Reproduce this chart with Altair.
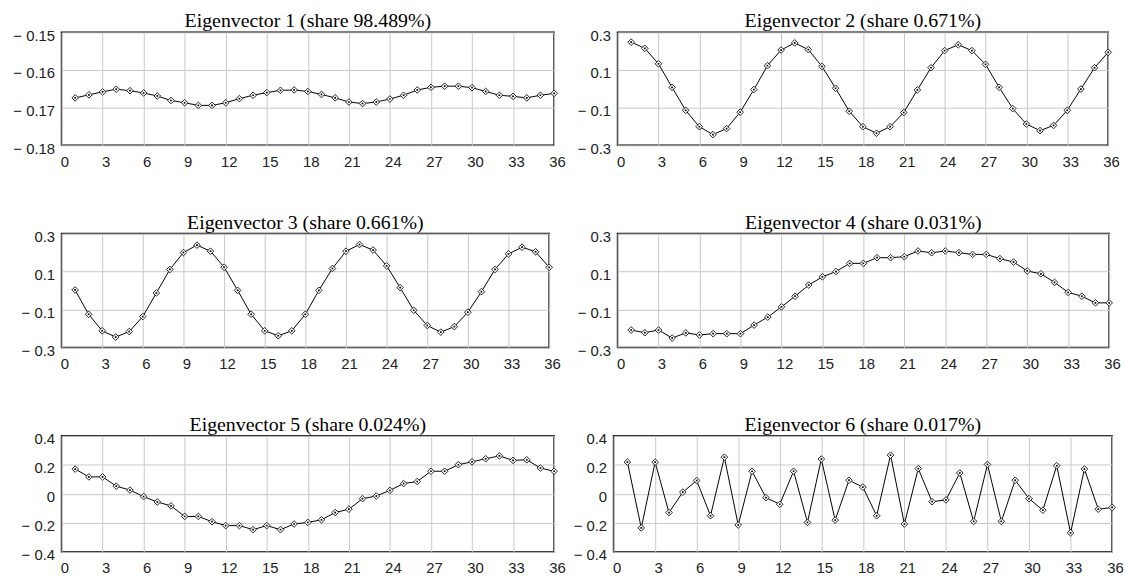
import altair as alt
import pandas as pd

x_vals = list(range(1, 37))

ev1 = [-0.1674, -0.1666, -0.1658, -0.1651, -0.1655, -0.1661, -0.1669, -0.1681, -0.1687, -0.1694,
       -0.1694, -0.1687, -0.1676, -0.1667, -0.1660, -0.1654, -0.1653, -0.1657, -0.1665, -0.1674,
       -0.1685, -0.1689, -0.1685, -0.1677, -0.1667, -0.1653, -0.1646, -0.1643, -0.1643, -0.1647,
       -0.1657, -0.1667, -0.1670, -0.1674, -0.1667, -0.1662]
ev2 = [0.248, 0.215, 0.133, 0.008, -0.114, -0.201, -0.243, -0.211, -0.124, -0.004,
       0.123, 0.206, 0.244, 0.208, 0.119, 0.003, -0.119, -0.201, -0.236, -0.201,
       -0.126, -0.006, 0.112, 0.203, 0.234, 0.203, 0.130, 0.008, -0.105, -0.187,
       -0.222, -0.194, -0.114, -0.001, 0.112, 0.194]
ev3 = [0.003, -0.125, -0.212, -0.245, -0.216, -0.137, -0.013, 0.111, 0.200, 0.239,
       0.207, 0.123, 0.001, -0.125, -0.212, -0.238, -0.212, -0.125, 0.001, 0.116,
       0.207, 0.242, 0.213, 0.130, 0.015, -0.104, -0.184, -0.219, -0.190, -0.114,
       -0.006, 0.111, 0.193, 0.228, 0.204, 0.122]
ev4 = [-0.208, -0.222, -0.208, -0.250, -0.223, -0.234, -0.227, -0.227, -0.227, -0.182,
       -0.140, -0.086, -0.030, 0.029, 0.072, 0.100, 0.143, 0.143, 0.173, 0.173,
       0.178, 0.208, 0.199, 0.208, 0.199, 0.190, 0.190, 0.168, 0.150, 0.103,
       0.088, 0.043, -0.010, -0.030, -0.065, -0.065]
ev5 = [0.170, 0.116, 0.116, 0.052, 0.025, -0.020, -0.057, -0.084, -0.157, -0.157,
       -0.193, -0.220, -0.220, -0.248, -0.220, -0.248, -0.209, -0.198, -0.180, -0.130,
       -0.107, -0.034, -0.016, 0.023, 0.070, 0.084, 0.155, 0.155, 0.200, 0.220,
       0.241, 0.261, 0.230, 0.234, 0.177, 0.155]
ev6 = [0.218, -0.236, 0.218, -0.130, 0.011, 0.091, -0.152, 0.252, -0.216, 0.155,
       -0.027, -0.073, 0.155, -0.198, 0.239, -0.182, 0.093, 0.045, -0.152, 0.266,
       -0.209, 0.173, -0.055, -0.043, 0.143, -0.191, 0.202, -0.191, 0.093, -0.034,
       -0.114, 0.193, -0.270, 0.170, -0.107, -0.095]

titles = [
    "Eigenvector 1 (share 98.489%)",
    "Eigenvector 2 (share 0.671%)",
    "Eigenvector 3  (share 0.661%)",
    "Eigenvector 4 (share 0.031%)",
    "Eigenvector 5 (share 0.024%)",
    "Eigenvector 6 (share 0.017%)",
]

x_ticks = list(range(0, 37, 3))
y_ticks_1 = [-0.18, -0.17, -0.16, -0.15]
y_ticks_2 = [-0.3, -0.1, 0.1, 0.3]
y_ticks_3 = [-0.4, -0.2, 0, 0.2, 0.4]


def label_expr(fmt):
    return ("datum.value == 0 ? '0' : (datum.value < 0 ? '\u2212 ' + format(-datum.value, '%s') "
            ": format(datum.value, '%s'))" % (fmt, fmt))


def panel(vals, title, domain, ticks, fmt, w, h):
    df = pd.DataFrame({"x": x_vals, "y": vals})
    xenc = alt.X("x:Q", scale=alt.Scale(domain=[0, 36], nice=False, zero=False),
                 axis=alt.Axis(values=x_ticks, title=None, labelFlush=False, labelOffset=3,
                               labelPadding=9, grid=True))
    yenc = alt.Y("y:Q", scale=alt.Scale(domain=domain, nice=False, zero=False),
                 axis=alt.Axis(values=ticks, title=None, labelExpr=label_expr(fmt),
                               labelPadding=7, labelOffset=3, grid=True))
    base = alt.Chart(df).encode(x=xenc, y=yenc)
    line = base.mark_line(color="black", strokeWidth=1)
    pts = base.mark_point(shape="diamond", filled=True, fill="white", stroke="#222",
                          strokeWidth=1, size=45, opacity=1)
    dot = base.mark_point(shape="square", filled=True, color="black", size=3, opacity=1)
    return alt.layer(line, pts, dot).properties(
        width=w, height=h,
        title=alt.TitleParams(title, font="Liberation Serif", fontSize=20,
                              fontWeight="normal", color="black", offset=-3, anchor="middle"),
    )


p1 = panel(ev1, titles[0], [-0.18, -0.15], y_ticks_1, ".2f", 497, 114)
p2 = panel(ev2, titles[1], [-0.3, 0.3], y_ticks_2, ".1f", 495, 114)
p3 = panel(ev3, titles[2], [-0.3, 0.3], y_ticks_2, ".1f", 492, 115)
p4 = panel(ev4, titles[3], [-0.3, 0.3], y_ticks_2, ".1f", 496, 115)
p5 = panel(ev5, titles[4], [-0.4, 0.4], y_ticks_3, ".1f", 497, 117)
p6 = panel(ev6, titles[5], [-0.4, 0.4], y_ticks_3, ".1f", 503, 117)

r1 = alt.hconcat(p1, p2, spacing=64, bounds="flush")
r2 = alt.hconcat(p3, p4, spacing=69, bounds="flush")
r3 = alt.hconcat(p5, p6, spacing=60, bounds="flush")

chart = alt.concat(r1, r2, r3, columns=1, align="none", spacing=42).properties(
    padding={"left": 4, "top": 0, "right": 0, "bottom": 0},
    background="white",
).configure_view(
    stroke="black", strokeWidth=1.5
).configure_axis(
    labelFont="Liberation Sans", labelFontSize=15, labelColor="#222",
    ticks=False, domain=False, gridColor="#c8c8c8", gridWidth=1
)

chart.save("out.html", embed_options={"renderer": "svg", "actions": False})
